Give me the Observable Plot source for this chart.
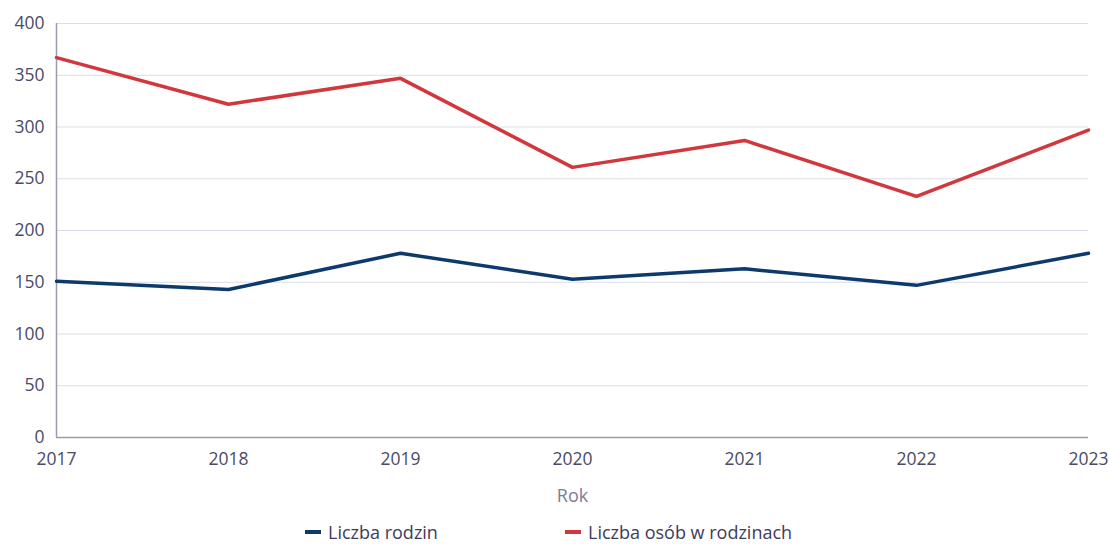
<!DOCTYPE html>
<html>
<head>
<meta charset="utf-8">
<script src="https://cdn.jsdelivr.net/npm/d3@7"></script>
<script src="https://cdn.jsdelivr.net/npm/@observablehq/plot@0.6"></script>
<style>
  html, body { margin: 0; padding: 0; background: #fff; }
  body { width: 1109px; height: 544px; overflow: hidden; font-family: "Open Sans", "Noto Sans", sans-serif; }
  #legend { position: relative; height: 32px; font-size: 18px; color: #3c3c5c; }
  .item { position: absolute; top: 9px; display: flex; align-items: center; line-height: 22px; }
  .sw { width: 16px; height: 4px; margin-right: 7px; }
</style>
</head>
<body>
<div id="chart"></div>
<div id="legend"></div>
<script>
const years = [2017, 2018, 2019, 2020, 2021, 2022, 2023];
const seriesNames = ["Liczba rodzin", "Liczba osób w rodzinach"];
const rodziny = [151, 143, 178, 153, 163, 147, 178];
const osoby = [367, 322, 347, 261, 287, 233, 297];
const colors = ["#0d3a6c", "#d1373c"];
const yTicks = [0, 50, 100, 150, 200, 250, 300, 350, 400];
const xTitle = "Rok";

const data = [];
years.forEach((y, i) => {
  data.push({year: y, value: rodziny[i], series: seriesNames[0]});
  data.push({year: y, value: osoby[i], series: seriesNames[1]});
});

const plot = Plot.plot({
  width: 1109,
  height: 512,
  marginLeft: 56,
  marginRight: 21,
  marginTop: 23,
  marginBottom: 75,
  style: {fontFamily: "'Open Sans', 'Noto Sans', sans-serif", fontSize: "17.5px", color: "#4a4a68", background: "#fff"},
  x: {domain: [2017, 2023], ticks: years, tickFormat: d => String(d), tickSize: 0, tickPadding: 15, label: null},
  y: {domain: [0, 400], ticks: yTicks, tickSize: 0, tickPadding: 12, label: null},
  color: {domain: seriesNames, range: colors},
  marks: [
    Plot.gridY(yTicks, {stroke: "#dcdce6", strokeOpacity: 1, strokeWidth: 1}),
    Plot.ruleX([2017], {stroke: "#9a9ab4", strokeWidth: 1.5}),
    Plot.ruleY([0], {stroke: "#9a9ab4", strokeWidth: 1.5}),
    Plot.line(data, {x: "year", y: "value", z: "series", stroke: "series", strokeWidth: 3.5, strokeLinejoin: "miter"}),
    Plot.text([xTitle], {frameAnchor: "bottom", dy: 64, text: d => d, fill: "#7c7c98", fontSize: 18})
  ]
});
document.getElementById("chart").appendChild(plot);

const legend = document.getElementById("legend");
const lefts = [305, 565];
seriesNames.forEach((n, i) => {
  const it = document.createElement("div");
  it.className = "item";
  it.style.left = lefts[i] + "px";
  it.innerHTML = `<span class="sw" style="background:${colors[i]}"></span><span>${n}</span>`;
  legend.appendChild(it);
});
</script>
</body>
</html>
